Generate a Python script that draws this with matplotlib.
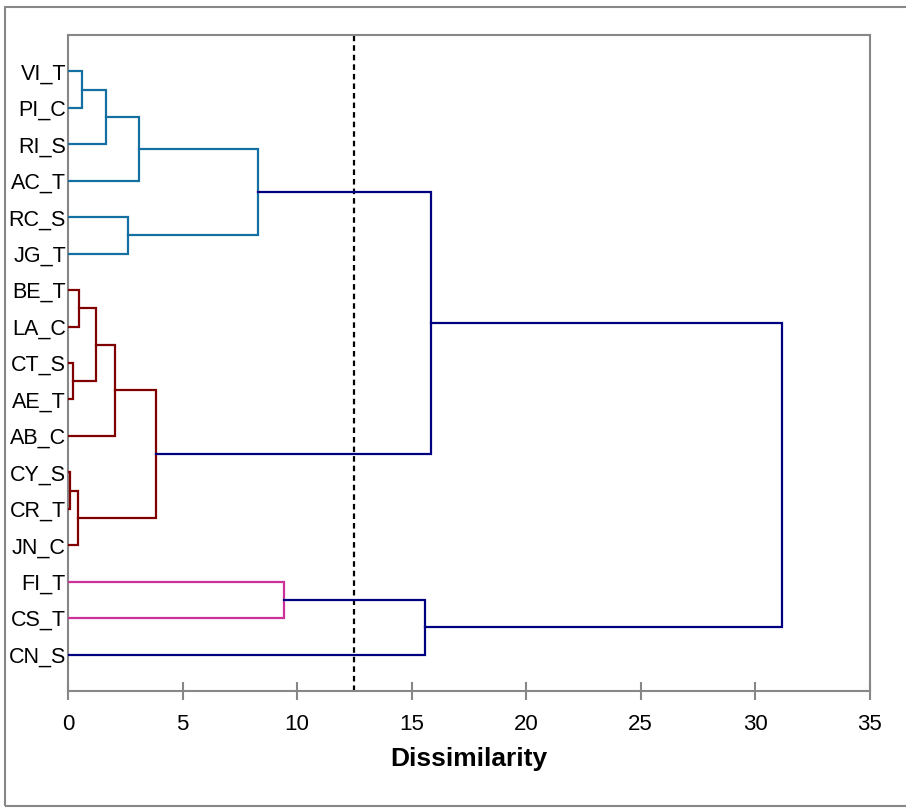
import matplotlib
matplotlib.use('Agg')
import matplotlib.pyplot as plt
from matplotlib.patches import Rectangle

plt.rcParams['font.family'] = ['Liberation Sans', 'DejaVu Sans']

# leaves, top to bottom
LEAVES = ['VI_T', 'PI_C', 'RI_S', 'AC_T', 'RC_S', 'JG_T', 'BE_T', 'LA_C', 'CT_S',
          'AE_T', 'AB_C', 'CY_S', 'CR_T', 'JN_C', 'FI_T', 'CS_T', 'CN_S']

# merges: (child a, child b, dissimilarity); new cluster ids start at len(LEAVES)
MERGE_A = [11, 8, 17, 6, 0, 20, 21, 22, 4, 23, 24, 26, 14, 29, 28, 31]
MERGE_B = [12, 9, 13, 7, 1, 18, 2, 10, 5, 3, 19, 25, 15, 16, 27, 30]
MERGE_H = [0.10, 0.23, 0.42, 0.47, 0.60, 1.21, 1.66, 2.04, 2.60, 3.09, 3.85,
           8.28, 9.42, 15.60, 15.84, 31.20]
MERGE_GROUP = ['red', 'red', 'red', 'red', 'blue', 'red', 'blue', 'red', 'blue',
               'blue', 'red', 'blue', 'pink', 'navy', 'navy', 'navy']

CUT_LEVEL = 12.5
XTICKS = [0, 5, 10, 15, 20, 25, 30, 35]

COLORS = {'blue': '#1470A0', 'red': '#800000', 'pink': '#CC3399', 'navy': '#000080'}
GRAY = '#878787'

n = len(LEAVES)
pos = {i: i + 1 for i in range(n)}
height = {i: 0.0 for i in range(n)}

fig = plt.figure(figsize=(9.06, 8.10), dpi=100)
ax = fig.add_axes([68 / 906, 1 - 691 / 810, (869.5 - 68) / 906, (691 - 35) / 810])

for k, (a, b, h, g) in enumerate(zip(MERGE_A, MERGE_B, MERGE_H, MERGE_GROUP)):
    c = COLORS[g]
    ya, yb = pos[a], pos[b]
    ax.plot([height[a], h, h, height[b]], [ya, ya, yb, yb],
            color=c, lw=1.6, solid_joinstyle='miter', zorder=3)
    pos[n + k] = (ya + yb) / 2
    height[n + k] = h

ax.axvline(CUT_LEVEL, color='black', lw=1.6, ls=(0, (2.5, 1.8)), zorder=2)

ax.set_xlim(0, 35)
ax.set_ylim(len(LEAVES) + 1, 0)
ax.set_xticks(XTICKS)
ax.set_xticklabels([str(t) for t in XTICKS], fontsize=16)
ax.set_yticks(range(1, n + 1))
ax.set_yticklabels(LEAVES, fontsize=15.5)
ax.tick_params(axis='y', length=0, pad=1.5)
ax.tick_params(axis='x', direction='inout', length=13, width=1.5, color=GRAY, pad=10)
for s in ax.spines.values():
    s.set_color(GRAY)
    s.set_linewidth(1.5)
ax.set_xlabel('Dissimilarity', fontsize=19, fontweight='bold', labelpad=9)

fig.add_artist(Rectangle((5 / 906, 1 - 806 / 810), 1.2, (806 - 7) / 810,
                         transform=fig.transFigure, fill=False, ec=GRAY, lw=1.5))

fig.savefig('out.png', dpi=100)
